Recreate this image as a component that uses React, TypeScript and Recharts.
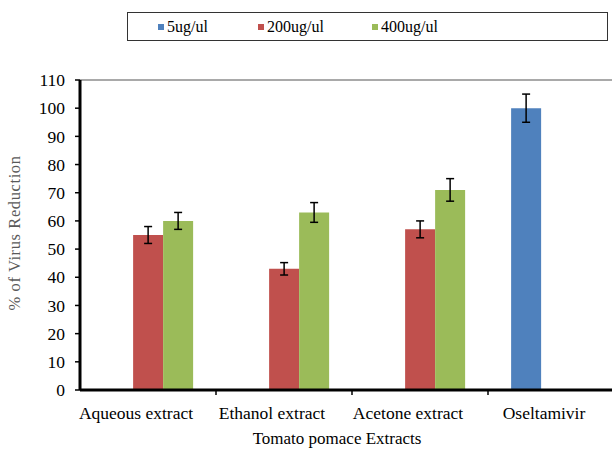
import React from 'react';
import { BarChart, Bar, XAxis, YAxis, Legend, ErrorBar, ReferenceLine, Label } from 'recharts';

const categories = ['Aqueous extract', 'Ethanol extract', 'Acetone extract', 'Oseltamivir'];
const seriesNames = ['5ug/ul', '200ug/ul', '400ug/ul'];
const seriesColors = ['#4F81BD', '#C0504D', '#9BBB59'];
const dose5 = [null, null, null, 100];
const dose5Err = [null, null, null, 5];
const dose200 = [55, 43, 57, null];
const dose200Err = [3, 2.2, 3, null];
const dose400 = [60, 63, 71, null];
const dose400Err = [3, 3.5, 4, null];
const yTicks = [0, 10, 20, 30, 40, 50, 60, 70, 80, 90, 100, 110];

const data = categories.map((name, i) => ({
  name,
  d5: dose5[i],
  d5Err: dose5Err[i],
  d200: dose200[i],
  d200Err: dose200Err[i],
  d400: dose400[i],
  d400Err: dose400Err[i],
}));

const FONT = '"Liberation Serif", "Times New Roman", serif';
const CHART_W = 630;
const PLOT_LEFT = 80;
const PLOT_RIGHT = 6;
const halfBand = (CHART_W - PLOT_LEFT - PLOT_RIGHT) / categories.length / 2;
const legendItemWidths = [100, 114, 114];

const CategoryTick = (props: any) => {
  const { x, y, payload, index } = props;
  const axisY = y - 8;
  return (
    <g>
      {index < categories.length - 1 && (
        <line x1={x + halfBand} x2={x + halfBand} y1={axisY} y2={axisY + 5} stroke="#000" strokeWidth={1.5} />
      )}
      <text x={x} y={y} dx={-12} dy={21} textAnchor="middle" fontFamily={FONT} fontSize={17.5} fill="#000">
        {payload.value}
      </text>
    </g>
  );
};

// legend drawn from our own series list so the order stays 5 / 200 / 400
const LegendBox = () => (
  <div
    style={{
      border: '1.5px solid #333',
      height: 29,
      boxSizing: 'border-box',
      display: 'flex',
      alignItems: 'center',
      paddingLeft: 30,
      fontFamily: FONT,
      fontSize: 16,
      color: '#000',
    }}
  >
    {seriesNames.map((n, i) => (
      <div key={n} style={{ display: 'flex', alignItems: 'center', width: legendItemWidths[i] }}>
        <span style={{ width: 6, height: 6, background: seriesColors[i], marginRight: 3, display: 'inline-block' }} />
        <span>{n}</span>
      </div>
    ))}
  </div>
);

export default function App() {
  return (
    <div style={{ position: 'absolute', left: 0, top: 0, width: 612, height: 450, overflow: 'hidden', background: '#fff' }}>
      <BarChart
        width={CHART_W}
        height={450}
        data={data}
        margin={{ top: 51, right: PLOT_RIGHT, left: 0, bottom: 0 }}
        barCategoryGap="17%"
        barGap={0}
      >
        <ReferenceLine y={110} stroke="#8c8c8c" strokeWidth={1.5} />
        <XAxis
          dataKey="name"
          height={60}
          axisLine={{ stroke: '#000', strokeWidth: 3 }}
          tickLine={false}
          tick={<CategoryTick />}
          interval={0}
        >
          <Label
            value="Tomato pomace Extracts"
            position="insideBottom"
            offset={6}
            dx={-15}
            style={{ fontFamily: FONT, fontSize: 17, fill: '#000' }}
          />
        </XAxis>
        <YAxis
          width={PLOT_LEFT}
          domain={[0, 110]}
          ticks={yTicks}
          interval={0}
          axisLine={{ stroke: '#000', strokeWidth: 3 }}
          tickLine={{ stroke: '#000', strokeWidth: 1.5 }}
          tickSize={5}
          tickMargin={10}
          tick={{ fontFamily: FONT, fontSize: 17.5, fill: '#000' }}
        >
          <Label
            value="% of Virus Reduction"
            angle={-90}
            position="insideLeft"
            offset={14}
            dy={-2}
            style={{ fontFamily: FONT, fontSize: 16.5, fill: '#595959', textAnchor: 'middle', letterSpacing: 0.6 }}
          />
        </YAxis>
        <Legend
          verticalAlign="top"
          content={<LegendBox />}
          wrapperStyle={{ position: 'absolute', top: 12, left: 127, width: 481, height: 29 }}
        />
        <Bar dataKey="d5" name={seriesNames[0]} fill={seriesColors[0]} isAnimationActive={false}>
          <ErrorBar dataKey="d5Err" width={4} stroke="#000" strokeWidth={1.5} />
        </Bar>
        <Bar dataKey="d200" name={seriesNames[1]} fill={seriesColors[1]} isAnimationActive={false}>
          <ErrorBar dataKey="d200Err" width={4} stroke="#000" strokeWidth={1.5} />
        </Bar>
        <Bar dataKey="d400" name={seriesNames[2]} fill={seriesColors[2]} isAnimationActive={false}>
          <ErrorBar dataKey="d400Err" width={4} stroke="#000" strokeWidth={1.5} />
        </Bar>
      </BarChart>
    </div>
  );
}
